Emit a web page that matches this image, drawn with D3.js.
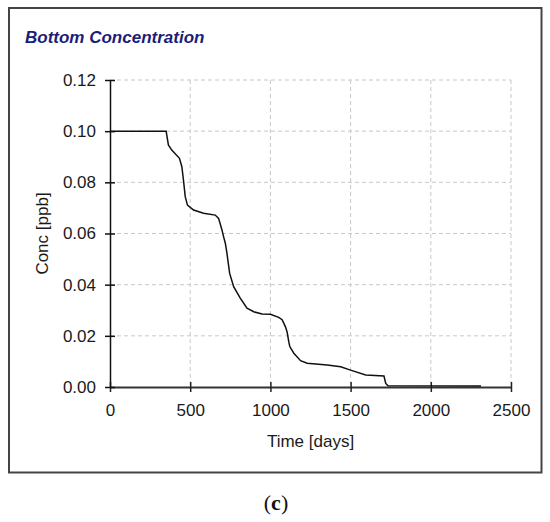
<!DOCTYPE html>
<html>
<head>
<meta charset="utf-8">
<script src="https://cdn.jsdelivr.net/npm/d3@7"></script>
<style>
  html, body { margin: 0; padding: 0; background: #fff; }
  svg { display: block; }
</style>
</head>
<body>
<div id="chart"></div>
<script>
'use strict';

// values
const timeDays = [0, 350, 364, 385, 433, 448, 458, 469, 483, 521, 583, 656, 677, 698, 708, 719, 729,
    746, 771, 812, 854, 896, 948, 1000, 1052, 1073, 1094, 1104, 1115, 1121, 1146, 1188, 1229,
    1354, 1438, 1500, 1594, 1708, 1719, 1733, 2313];
const concPpb = [0.100, 0.100, 0.0946, 0.0926, 0.0894, 0.0861, 0.0809, 0.0744, 0.0711, 0.0692, 0.0679,
    0.0672, 0.0659, 0.0614, 0.0588, 0.0562, 0.0523, 0.0444, 0.0392, 0.0347, 0.0308, 0.0294, 0.0285,
    0.0284, 0.0272, 0.0263, 0.0235, 0.0215, 0.0175, 0.0158, 0.0132, 0.0103, 0.0093, 0.0086, 0.0079,
    0.0066, 0.0047, 0.0043, 0.0014, 0.0005, 0.0004];
const xTicks = [0, 500, 1000, 1500, 2000, 2500];
const yTicks = [0, 0.02, 0.04, 0.06, 0.08, 0.10, 0.12];

const width = 550;
const height = 522;
const margin = { left: 110, right: 39, top: 80, bottom: 135 };
const chartWidth = width - margin.left - margin.right;
const chartHeight = height - margin.top - margin.bottom;
const font = 'Liberation Sans, Arial, sans-serif';

const svg = d3.select('#chart')
    .append('svg')
    .attr('width', width)
    .attr('height', height);

// outer frame
svg.append('rect')
    .attr('x', 9)
    .attr('y', 8)
    .attr('width', 532.5)
    .attr('height', 464.5)
    .attr('fill', 'none')
    .attr('stroke', '#444')
    .attr('stroke-width', 2);

svg.append('text')
    .attr('x', 25)
    .attr('y', 43)
    .attr('font-family', font)
    .attr('font-size', 17)
    .attr('font-weight', 700)
    .attr('font-style', 'italic')
    .attr('fill', '#1c1c7a')
    .text('Bottom Concentration');

const chart = svg.append('g')
    .attr('transform', `translate(${margin.left},${margin.top})`);

const xScale = d3.scaleLinear()
    .domain([0, 2500])
    .range([0, chartWidth]);

const yScale = d3.scaleLinear()
    .domain([0, 0.12])
    .range([chartHeight, 0]);

// dashed grid
chart.append('g')
    .selectAll('line')
    .data(xTicks.slice(1))
    .join('line')
    .attr('x1', d => xScale(d))
    .attr('x2', d => xScale(d))
    .attr('y1', 0)
    .attr('y2', chartHeight)
    .attr('stroke', '#c8c8c8')
    .attr('stroke-dasharray', '4,3');

chart.append('g')
    .selectAll('line')
    .data(yTicks.slice(1))
    .join('line')
    .attr('x1', 0)
    .attr('x2', chartWidth)
    .attr('y1', d => yScale(d))
    .attr('y2', d => yScale(d))
    .attr('stroke', '#c8c8c8')
    .attr('stroke-dasharray', '4,3');

const xAxis = d3.axisBottom(xScale)
    .tickValues(xTicks)
    .tickSizeOuter(0)
    .tickSizeInner(5)
    .tickPadding(12)
    .tickFormat(d3.format('d'));

const yAxis = d3.axisLeft(yScale)
    .tickValues(yTicks)
    .tickSizeOuter(0)
    .tickSizeInner(5)
    .tickPadding(9)
    .tickFormat(d3.format('.2f'));

const xAxisG = chart.append('g')
    .attr('transform', `translate(0,${chartHeight})`)
    .call(xAxis);

const yAxisG = chart.append('g')
    .call(yAxis);

// ticks cross the axis line
xAxisG.selectAll('.tick line').attr('y1', -5).attr('y2', 5).attr('stroke', '#222').attr('stroke-width', 1.5);
yAxisG.selectAll('.tick line').attr('x1', 5).attr('x2', -5).attr('stroke', '#111').attr('stroke-width', 1.5);
xAxisG.select('.domain').attr('stroke', '#333').attr('stroke-width', 2);
yAxisG.select('.domain').attr('stroke', '#111').attr('stroke-width', 1.5);

[xAxisG, yAxisG].forEach(g => {
    g.selectAll('.tick text')
        .attr('font-family', font)
        .attr('font-size', 17)
        .attr('fill', '#1a1a1a');
});

chart.append('text')
    .attr('x', chartWidth / 2)
    .attr('y', chartHeight + 60)
    .attr('text-anchor', 'middle')
    .attr('font-family', font)
    .attr('font-size', 17)
    .attr('fill', '#1a1a1a')
    .text('Time [days]');

chart.append('text')
    .attr('transform', 'rotate(-90)')
    .attr('x', -chartHeight / 2)
    .attr('y', -62)
    .attr('text-anchor', 'middle')
    .attr('font-family', font)
    .attr('font-size', 17)
    .attr('fill', '#1a1a1a')
    .text('Conc [ppb]');

const series = timeDays.map((t, i) => ({ t: t, c: concPpb[i] }));

const line = d3.line()
    .x(d => xScale(d.t))
    .y(d => yScale(d.c));

chart.append('path')
    .datum(series)
    .attr('d', line)
    .attr('fill', 'none')
    .attr('stroke', '#111')
    .attr('stroke-width', 1.5);

// panel label
const label = svg.append('text')
    .attr('x', 276)
    .attr('y', 510)
    .attr('text-anchor', 'middle')
    .attr('font-family', 'Liberation Serif, Times New Roman, serif')
    .attr('font-size', 22)
    .attr('fill', '#111');
label.append('tspan').text('(');
label.append('tspan').attr('font-weight', 700).text('c');
label.append('tspan').text(')');
</script>
</body>
</html>
